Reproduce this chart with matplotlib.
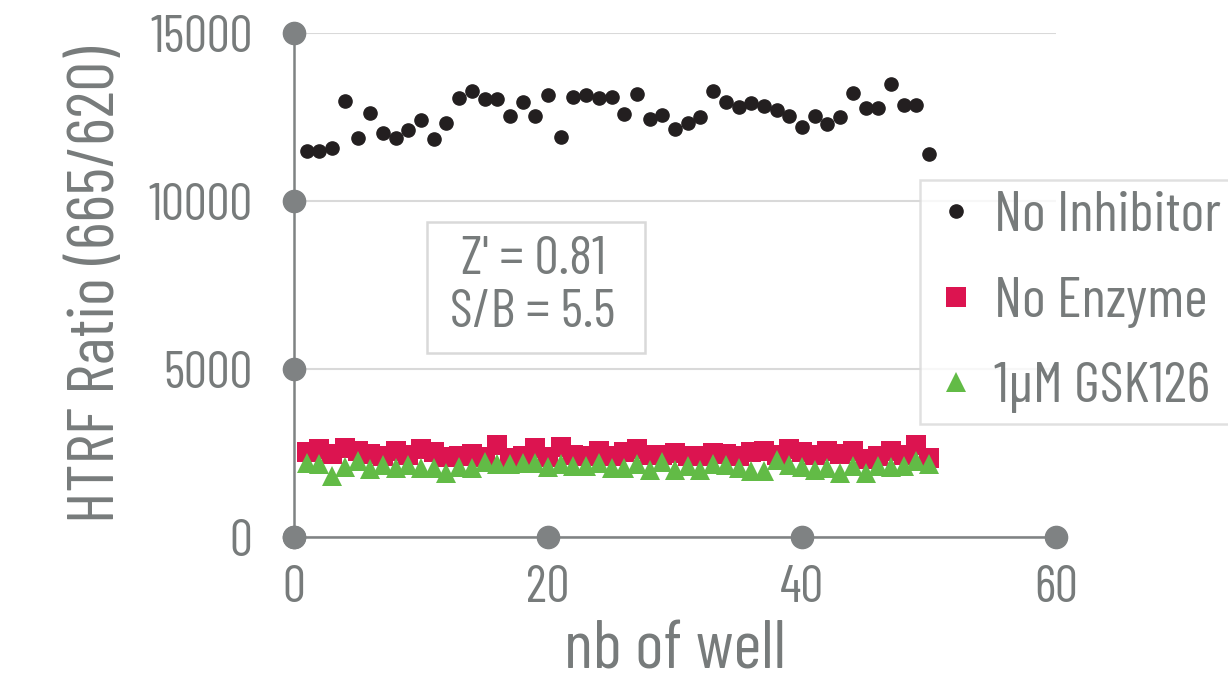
import matplotlib
matplotlib.use("Agg")
import matplotlib.pyplot as plt
from matplotlib.patches import Rectangle

plt.rcParams['font.family'] = ['Barlow Condensed', 'DejaVu Sans']

# data
wells = list(range(1, 51))
no_inhibitor = [11490, 11490, 11570, 12980, 11870, 12610, 12010, 11870, 12110, 12410,
                11850, 12330, 13060, 13280, 13030, 13030, 12530, 12960, 12530, 13150,
                11910, 13100, 13150, 13060, 13100, 12580, 13180, 12430, 12560, 12130,
                12330, 12510, 13280, 12940, 12810, 12910, 12830, 12710, 12530, 12210,
                12530, 12280, 12510, 13220, 12760, 12760, 13480, 12860, 12860, 11400]
no_enzyme = [2520, 2610, 2480, 2650, 2550, 2470, 2420, 2560, 2440, 2620,
             2530, 2380, 2410, 2470, 2380, 2740, 2340, 2400, 2660, 2380,
             2690, 2440, 2400, 2560, 2420, 2530, 2620, 2450, 2440, 2490,
             2410, 2400, 2490, 2470, 2420, 2520, 2560, 2440, 2610, 2520,
             2440, 2560, 2460, 2560, 2310, 2410, 2560, 2440, 2740, 2340]
gsk126 = [2200, 2170, 1830, 2080, 2250, 2020, 2130, 2050, 2130, 2050,
          2050, 1890, 2080, 2050, 2230, 2180, 2170, 2190, 2200, 2080,
          2170, 2100, 2120, 2200, 2050, 2050, 2160, 1980, 2240, 1980,
          2120, 1980, 2180, 2150, 2050, 1970, 1950, 2300, 2150, 2080,
          1980, 2050, 1900, 2100, 1900, 2100, 2070, 2100, 2270, 2170]

labels = ['No Inhibitor', 'No Enzyme', '1\u00b5M GSK126']
x_ticks = [0, 20, 40, 60]
y_ticks = [0, 5000, 10000, 15000]

grey = '#777b7b'
axis_grey = '#7f8283'
grid_grey = '#d9d9d9'

fig = plt.figure(figsize=(12.28, 6.83), dpi=100)
ax = fig.add_axes([294 / 1228, 1 - 537 / 683, 762 / 1228, 504 / 683])

ax.plot(wells, no_inhibitor, 'o', color='#231f20', ms=9.5, ls='none', label=labels[0], zorder=5)
ax.plot(wells, no_enzyme, 's', color='#dc1450', ms=14.4, mew=0, ls='none', label=labels[1], zorder=3)
ax.plot(wells, gsk126, '^', color='#62bb46', ms=14, mew=0, ls='none', label=labels[2], zorder=4)

ax.set_xlim(0, 60)
ax.set_ylim(0, 15000)
ax.set_xticks(x_ticks)
ax.set_yticks(y_ticks)
ax.tick_params(length=0, labelsize=37, colors=grey, pad=20)
ax.tick_params(axis='y', pad=30)

for s in ['top', 'right']:
    ax.spines[s].set_visible(False)
for s in ['left', 'bottom']:
    ax.spines[s].set_color(axis_grey)
    ax.spines[s].set_linewidth(1.8)

ax.yaxis.grid(True, color=grid_grey, linewidth=1.5)
ax.set_axisbelow(True)

# round tick markers on the axes
ax.plot(x_ticks, [0] * len(x_ticks), 'o', color=axis_grey, ms=16, clip_on=False, zorder=6)
ax.plot([0] * len(y_ticks), y_ticks, 'o', color=axis_grey, ms=16, clip_on=False, zorder=6)

ax.set_xlabel('nb of well', fontsize=49, color=grey, labelpad=6)
ax.set_ylabel('HTRF Ratio (665/620)', fontsize=48, color=grey, labelpad=15)

# stats box
ax.add_patch(Rectangle((133 / 762, 184 / 504), 218 / 762, 131 / 504, transform=ax.transAxes,
                       facecolor='white', edgecolor=grid_grey, linewidth=1.8, zorder=2))
ax.text(239 / 762, 250 / 504, "Z' = 0.81\nS/B = 5.5", transform=ax.transAxes,
        ha='center', va='center', fontsize=39, color=grey, linespacing=1.1, zorder=3)

leg = ax.legend(loc='upper left', bbox_to_anchor=(920 / 1228, 1 - 180 / 683),
                bbox_transform=fig.transFigure, borderaxespad=0, fontsize=41,
                frameon=True, fancybox=False, edgecolor=grid_grey, handlelength=0.85,
                handletextpad=0.25, labelspacing=0.6, borderpad=0.2)
leg.get_frame().set_linewidth(1.8)
for t in leg.get_texts():
    t.set_color(grey)

fig.savefig('out.png', dpi=100)
